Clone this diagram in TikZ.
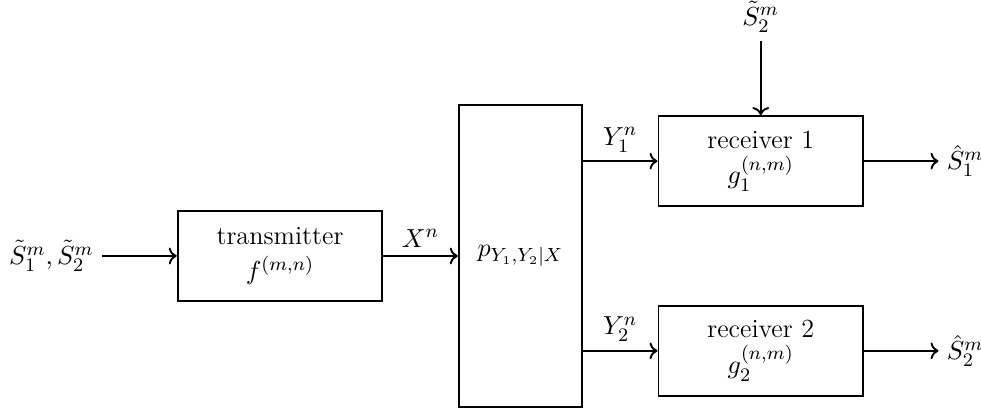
\documentclass[tikz,border=0pt]{standalone}
\usepackage{amsmath}
\usepackage{tikz}
\usetikzlibrary{arrows.meta,positioning,calc}

\begin{document}
\begin{tikzpicture}[
  font=\fontsize{11pt}{15pt}\selectfont,
  node distance=11mm,
  block/.style={draw,thick,align=center,minimum width=30.2mm,minimum height=13.3mm,inner sep=2pt},
  chan/.style={draw,thick,minimum width=18.2mm,minimum height=44.7mm},
  arr/.style={->,thick}
]
\useasboundingbox (-117.6pt,-65.1pt) rectangle (294.4pt,107.5pt);
% transmitter side
\node[block] (tx) {transmitter\\$f^{(m,n)}$};
\node[left=of tx] (src) {$\tilde{S}_1^m,\tilde{S}_2^m$};
\node[chan,right=of tx] (ch) {$p_{Y_1,Y_2|X}$};
\draw[arr] (src) -- (tx);
\draw[arr] (tx) -- node[above] {$X^n$} (ch);
% receivers
\node[block,right=of ch,yshift=14mm] (rx1) {receiver 1\\$g_1^{(n,m)}$};
\node[block,right=of ch,yshift=-14mm] (rx2) {receiver 2\\$g_2^{(n,m)}$};
\node[above=11mm of rx1] (side) {$\tilde{S}_2^m$};
\node[right=of rx1] (out1) {$\hat{S}_1^m$};
\node[right=of rx2] (out2) {$\hat{S}_2^m$};
\draw[arr] (rx1.west -| ch.east) -- node[above] {$Y_1^n$} (rx1.west);
\draw[arr] (rx2.west -| ch.east) -- node[above] {$Y_2^n$} (rx2.west);
\draw[arr] (side) -- (rx1);
\draw[arr] (rx1) -- (out1);
\draw[arr] (rx2) -- (out2);
\end{tikzpicture}
\end{document}
